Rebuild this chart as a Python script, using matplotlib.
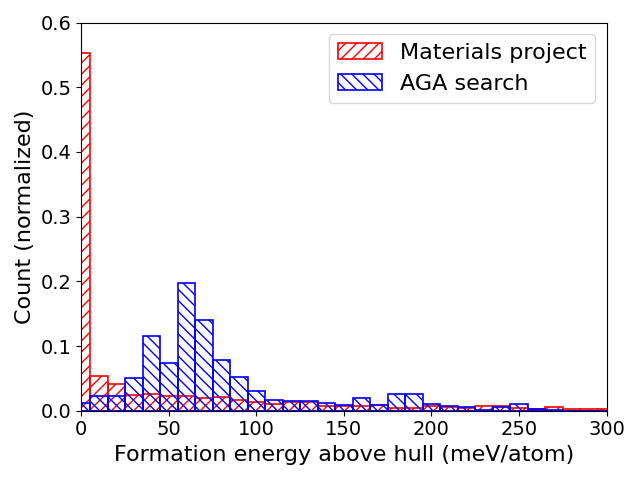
import numpy as np
import matplotlib
matplotlib.use('Agg')
import matplotlib.pyplot as plt

# bin centres (meV/atom), bins are 10 wide
bin_centers = np.arange(0, 310, 10)

# normalized counts
mp_counts = [0.553, 0.053, 0.042, 0.0245, 0.0265, 0.023, 0.023, 0.020, 0.021, 0.016,
             0.013, 0.011, 0.013, 0.014, 0.008, 0.007, 0.008, 0.0095, 0.004, 0.004,
             0.008, 0.006, 0.004, 0.007, 0.007, 0.004, 0.003, 0.006, 0.0025, 0.0025,
             0.0025]
aga_counts = [0.012, 0.023, 0.0235, 0.050, 0.115, 0.0745, 0.197, 0.1395, 0.078, 0.052,
              0.031, 0.016, 0.0145, 0.015, 0.012, 0.0095, 0.019, 0.0085, 0.0255, 0.0255,
              0.010, 0.0075, 0.005, 0.0015, 0.006, 0.010, 0.002, 0.001, 0.0, 0.0,
              0.0]

fig, ax = plt.subplots(figsize=(6.4, 4.8), dpi=100)

ax.bar(bin_centers, mp_counts, width=10, fill=False, edgecolor='red',
       hatch='///', linewidth=1.2, label='Materials project')
ax.bar(bin_centers, aga_counts, width=10, fill=False, edgecolor='blue',
       hatch='\\\\\\', linewidth=1.2, label='AGA search')

ax.set_xlim(0, 300)
ax.set_ylim(0, 0.6)
ax.tick_params(labelsize=14)
ax.set_xlabel('Formation energy above hull (meV/atom)', fontsize=16)
ax.set_ylabel('Count (normalized)', fontsize=16)
ax.legend(fontsize=16, loc='upper right')

plt.tight_layout()
plt.savefig('out.png')
